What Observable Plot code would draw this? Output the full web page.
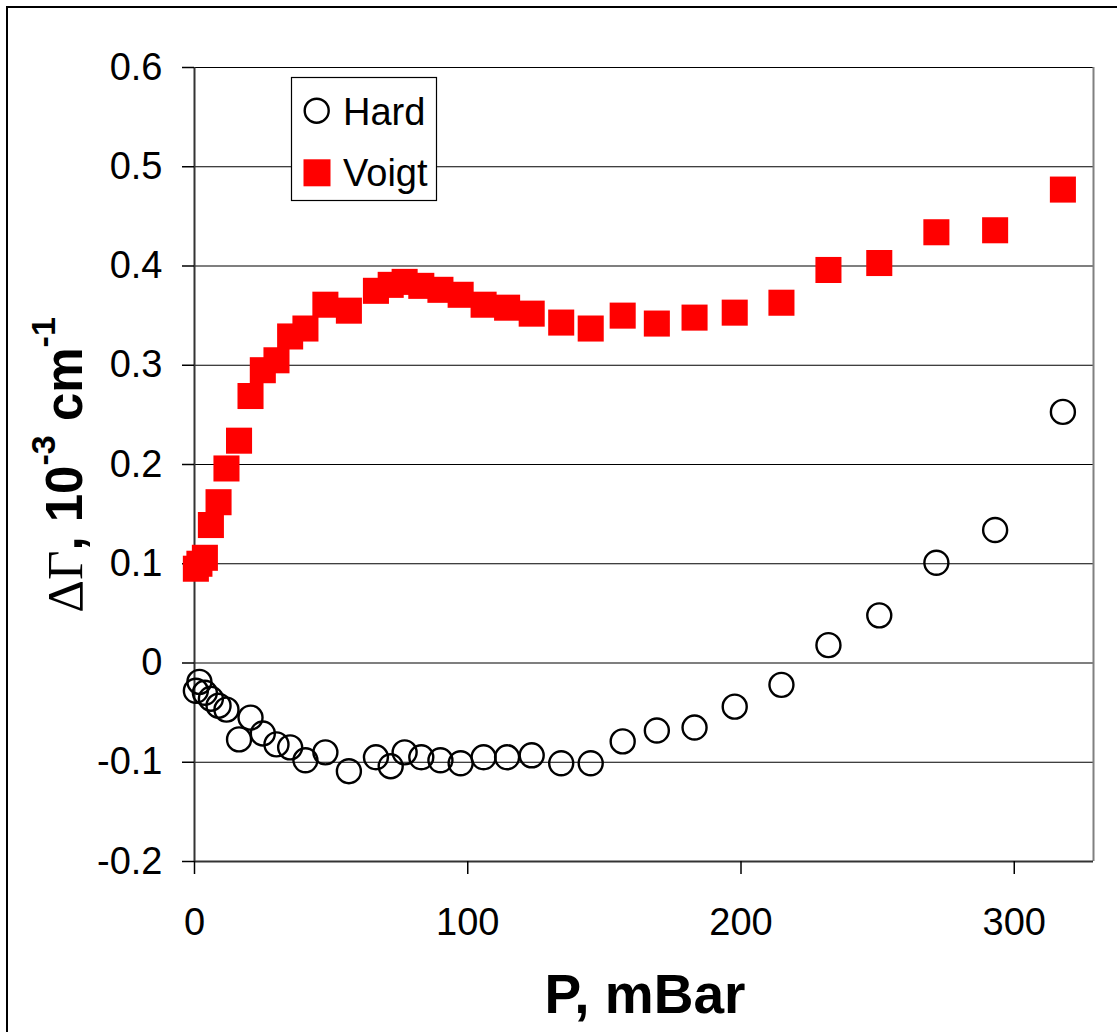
<!DOCTYPE html>
<html>
<head>
<meta charset="utf-8">
<script src="https://cdn.jsdelivr.net/npm/d3@7"></script>
<script src="https://cdn.jsdelivr.net/npm/@observablehq/plot@0.6"></script>
<style>
  html, body { margin: 0; padding: 0; background: #fff; }
  #chart { width: 1117px; height: 1032px; }
</style>
</head>
<body>
<div id="chart"></div>
<script>
// Pressure, mBar
const P = [0.5, 1.8, 3.8, 6, 8.8, 11.7, 16.3, 20.5, 25, 30, 35, 40.6, 47.9, 56.5, 66.4, 71.8, 76.9, 83, 90, 97.4,
           105.8, 114.4, 123.4, 134.2, 145, 156.7, 169.2, 183, 197.7, 214.8, 232, 250.6, 271.5, 293, 317.8];
// Hard model, ΔΓ (10^-3 cm^-1)
const hard = [-0.028, -0.019, -0.030, -0.036, -0.043, -0.047, -0.077, -0.055, -0.071, -0.082, -0.085, -0.098, -0.090,
              -0.109, -0.095, -0.104, -0.090, -0.095, -0.098, -0.101, -0.095, -0.095, -0.093, -0.101, -0.101,
              -0.079, -0.068, -0.065, -0.044, -0.022, 0.018, 0.048, 0.101, 0.134, 0.253];
// Voigt model, ΔΓ (10^-3 cm^-1)
const voigt = [0.095, 0.100, 0.106, 0.139, 0.162, 0.196, 0.224, 0.269, 0.295, 0.305, 0.329, 0.337, 0.361, 0.355,
               0.375, 0.381, 0.384, 0.380, 0.376, 0.371, 0.361, 0.358, 0.352, 0.343, 0.337, 0.350, 0.342, 0.348,
               0.353, 0.363, 0.396, 0.403, 0.434, 0.436, 0.477];
const xTicks = [0, 100, 200, 300];
const yTicks = [-0.2, -0.1, 0, 0.1, 0.2, 0.3, 0.4, 0.5, 0.6];
const xDomain = [0, 329];
const yDomain = [-0.2, 0.6];
const seriesNames = ["Hard", "Voigt"];

const hardData = P.map((p, i) => ({p, v: hard[i]}));
const voigtData = P.map((p, i) => ({p, v: voigt[i]}));

const fmtY = d => String(+d.toFixed(1));

const chart = Plot.plot({
  width: 1117,
  height: 1032,
  marginLeft: 194,
  marginRight: 24,
  marginTop: 67,
  marginBottom: 171,
  style: {fontFamily: "Arial, 'Liberation Sans', sans-serif", background: "#fff", color: "#000"},
  x: {domain: xDomain, label: null},
  y: {domain: yDomain, label: null},
  marks: [
    Plot.ruleY(yTicks, {stroke: "#000", strokeWidth: 1.2}),
    Plot.ruleX([xDomain[1]], {stroke: "#808080", strokeWidth: 2}),
    Plot.ruleX([xDomain[0]], {stroke: "#333", strokeWidth: 2}),
    Plot.ruleY([yDomain[0]], {stroke: "#333", strokeWidth: 2}),
    Plot.axisY({ticks: yTicks, tickSize: 12, tickPadding: 20, fontSize: 38, tickFormat: fmtY, label: null, strokeWidth: 1.5}),
    Plot.axisX({ticks: xTicks, tickSize: 13, tickPadding: 34, fontSize: 38, tickFormat: d => String(d), label: null, strokeWidth: 1.5}),
    Plot.dot(hardData, {x: "p", y: "v", r: 12, stroke: "#000", strokeWidth: 2.4, fill: "none"}),
    Plot.dot(voigtData, {x: "p", y: "v", symbol: "square", r: 14.7, fill: "#ff0000", stroke: "none"})
  ]
});

document.getElementById("chart").appendChild(chart);
const svg = d3.select(chart);

// outer frame
svg.append("rect").attr("x", 7).attr("y", 7).attr("width", 1300).attr("height", 1300)
  .attr("fill", "none").attr("stroke", "#000").attr("stroke-width", 2);

// x axis title
svg.append("text").attr("x", 645).attr("y", 1013).attr("text-anchor", "middle")
  .attr("font-size", 55).attr("font-weight", "bold").attr("fill", "#000")
  .text("P, mBar");

// y axis title
const yt = svg.append("text").attr("transform", "translate(82,465) rotate(-90)")
  .attr("text-anchor", "middle").attr("font-size", 51).attr("font-weight", "bold").attr("fill", "#000");
yt.append("tspan").attr("font-family", "'Liberation Serif', 'Times New Roman', serif").attr("font-weight", "normal").text("ΔΓ");
yt.append("tspan").text(", 10");
yt.append("tspan").attr("font-size", 34).attr("dy", -27).text("-3");
yt.append("tspan").attr("dy", 27).text(" cm");
yt.append("tspan").attr("font-size", 34).attr("dy", -27).text("-1");

// legend
const lg = svg.append("g");
lg.append("rect").attr("x", 291.5).attr("y", 77.5).attr("width", 145).attr("height", 123)
  .attr("fill", "#fff").attr("stroke", "#000").attr("stroke-width", 1.2);
lg.append("circle").attr("cx", 316.7).attr("cy", 110.7).attr("r", 12).attr("fill", "none")
  .attr("stroke", "#000").attr("stroke-width", 2.4);
lg.append("rect").attr("x", 303.5).attr("y", 159.3).attr("width", 27).attr("height", 27).attr("fill", "#ff0000");
lg.append("text").attr("x", 343).attr("y", 125).attr("text-anchor", "start").attr("font-size", 38).attr("fill", "#000").text(seriesNames[0]);
lg.append("text").attr("x", 343).attr("y", 186).attr("text-anchor", "start").attr("font-size", 38).attr("fill", "#000").text(seriesNames[1]);
</script>
</body>
</html>
